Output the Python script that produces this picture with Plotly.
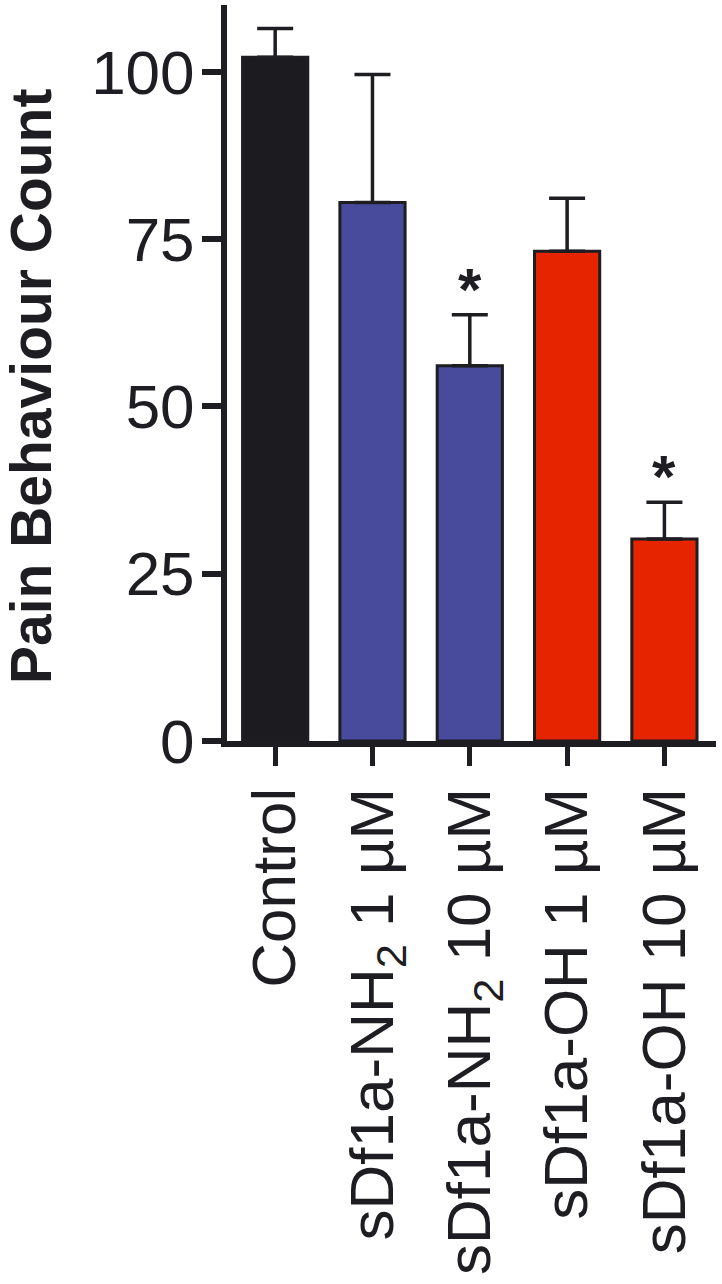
import plotly.graph_objects as go

categories = ["Control", "sDf1a-NH<sub>2</sub> 1 µM", "sDf1a-NH<sub>2</sub> 10 µM",
              "sDf1a-OH 1 µM", "sDf1a-OH 10 µM"]
means = [102.2, 80.5, 56.1, 73.2, 30.2]
err_upper = [4.3, 19.1, 7.6, 7.9, 5.5]
significant = [False, False, True, False, True]
colors = ["#1c1c20", "#484b9c", "#484b9c", "#e62400", "#e62400"]
y_ticks = [0, 25, 50, 75, 100]

W, H = 722, 1284
L, R, T, B = 227, 6, 5, 543
ink = "#1d1d22"
font_family = "Liberation Sans, Arial, sans-serif"

x_idx = list(range(len(categories)))

fig = go.Figure()
fig.add_trace(go.Bar(
    x=x_idx, y=means, width=0.67,
    marker=dict(color=colors, line=dict(color=ink, width=3)),
    error_y=dict(type="data", symmetric=False, array=err_upper,
                 arrayminus=[0] * len(means), color=ink, thickness=3.5, width=18),
    showlegend=False, hoverinfo="skip",
))

annotations = []
for i, (m, e, s) in enumerate(zip(means, err_upper, significant)):
    if s:
        annotations.append(dict(
            x=i, y=m + e, xref="x", yref="y", text="<b>*</b>", showarrow=False,
            yanchor="bottom", yshift=-10,
            font=dict(family=font_family, size=60, color=ink)))

annotations.append(dict(
    text="<b>Pain Behaviour Count</b>", textangle=-90, showarrow=False,
    xref="paper", yref="paper",
    x=(31 - L) / (W - L - R), y=(H - B - 387) / (H - B - T),
    xanchor="center", yanchor="middle",
    font=dict(family=font_family, size=57, color=ink)))

fig.update_layout(
    width=W, height=H,
    margin=dict(l=L, r=R, t=T, b=B, autoexpand=False),
    paper_bgcolor="white", plot_bgcolor="white",
    font=dict(family=font_family, color=ink),
    annotations=annotations,
    xaxis=dict(
        range=[-0.495, 4.53], tickmode="array", tickvals=x_idx, ticktext=categories,
        tickangle=-90, ticks="outside", ticklen=19, tickwidth=5, tickcolor=ink,
        showline=True, linewidth=6, linecolor=ink, showgrid=False, zeroline=False,
        tickfont=dict(size=62, family=font_family, color=ink), automargin=False,
        ticklabelstandoff=-3,
    ),
    yaxis=dict(
        range=[0, 110], tickmode="array", tickvals=y_ticks,
        ticks="outside", ticklen=19, tickwidth=6, tickcolor=ink,
        showline=True, linewidth=6, linecolor=ink, showgrid=False, zeroline=False,
        tickfont=dict(size=62, family=font_family, color=ink), automargin=False,
        ticklabelstandoff=-5,
    ),
)

fig.write_html("out.html", config={"displayModeBar": False},
               post_script="document.body.style.margin='0';")
